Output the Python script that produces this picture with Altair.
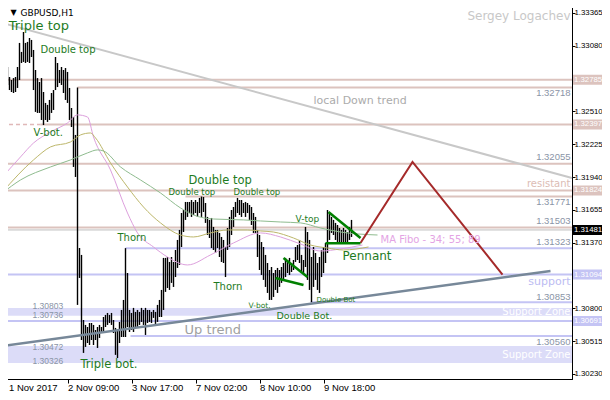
import altair as alt
import pandas as pd

# ---------------- data ----------------
bar_high = [1.32940, 1.32931, 1.32896, 1.32809, 1.32783, 1.32800, 1.32809, 1.32896, 1.33105, 1.33027,
            1.33200, 1.33105, 1.33114, 1.33148, 1.33131, 1.33044, 1.32870, 1.32800, 1.32766, 1.32800,
            1.32679, 1.32584, 1.32567, 1.32610, 1.32670, 1.32696, 1.32983, 1.32931, 1.32870, 1.32896,
            1.32870, 1.32887, 1.32853, 1.32714, 1.32540, 1.32462, 1.32306, 1.32718, 1.31324, 1.31264,
            1.30699, 1.30656, 1.30638, 1.30673, 1.30673, 1.30656, 1.30612, 1.30638, 1.30656, 1.30638,
            1.30725, 1.30743, 1.30760, 1.30743, 1.30760, 1.30699, 1.30630, 1.30612, 1.30682, 1.30786,
            1.30873, 1.31323, 1.31107, 1.30786, 1.30760, 1.30804, 1.30769, 1.30786, 1.30769, 1.30804,
            1.30786, 1.30804, 1.30786, 1.30786, 1.30769, 1.30786, 1.30769, 1.30830, 1.30873, 1.30960,
            1.31238, 1.31238, 1.31246, 1.31203, 1.31246, 1.31203, 1.31307, 1.31394, 1.31481, 1.31628,
            1.31654, 1.31724, 1.31724, 1.31724, 1.31741, 1.31724, 1.31741, 1.31724, 1.31759, 1.31771,
            1.31767, 1.31715, 1.31594, 1.31568, 1.31585, 1.31507, 1.31481, 1.31481, 1.31455, 1.31420,
            1.31394, 1.31333, 1.31498, 1.31594, 1.31654, 1.31680, 1.31724, 1.31759, 1.31741, 1.31741,
            1.31715, 1.31724, 1.31715, 1.31698, 1.31680, 1.31628, 1.31594, 1.31481, 1.31437, 1.31376,
            1.31333, 1.31264, 1.31194, 1.31133, 1.31159, 1.31107, 1.31133, 1.31151, 1.31133, 1.31159,
            1.31194, 1.31238, 1.31220, 1.31238, 1.31194, 1.31220, 1.31333, 1.31350, 1.31394, 1.31264,
            1.31220, 1.31507, 1.31463, 1.31394, 1.31246, 1.31333, 1.31281, 1.31194, 1.31246, 1.31307,
            1.31333, 1.31368, 1.31654, 1.31628, 1.31594, 1.31568, 1.31542, 1.31524, 1.31498, 1.31481,
            1.31498, 1.31481, 1.31463, 1.31507, 1.31568]
bar_low = [1.32844, 1.32783, 1.32740, 1.32696, 1.32679, 1.32670, 1.32679, 1.32714, 1.32783, 1.32931,
           1.32940, 1.32931, 1.32940, 1.32931, 1.32983, 1.32696, 1.32506, 1.32497, 1.32497, 1.32436,
           1.32392, 1.32436, 1.32419, 1.32436, 1.32497, 1.32523, 1.32696, 1.32722, 1.32757, 1.32740,
           1.32670, 1.32610, 1.32584, 1.32436, 1.32375, 1.32028, 1.31941, 1.30830, 1.31064, 1.30525,
           1.30413, 1.30465, 1.30499, 1.30482, 1.30525, 1.30482, 1.30525, 1.30456, 1.30543, 1.30586,
           1.30595, 1.30638, 1.30656, 1.30673, 1.30656, 1.30586, 1.30396, 1.30369, 1.30499, 1.30551,
           1.30551, 1.30551, 1.30638, 1.30595, 1.30612, 1.30595, 1.30638, 1.30630, 1.30656, 1.30682,
           1.30656, 1.30569, 1.30673, 1.30682, 1.30673, 1.30717, 1.30656, 1.30682, 1.30725, 1.30725,
           1.30786, 1.30943, 1.30977, 1.30960, 1.31021, 1.30986, 1.31072, 1.31151, 1.31177, 1.31333,
           1.31463, 1.31568, 1.31594, 1.31628, 1.31594, 1.31611, 1.31628, 1.31594, 1.31628, 1.31594,
           1.31637, 1.31542, 1.31437, 1.31411, 1.31324, 1.31307, 1.31281, 1.31324, 1.31246, 1.31203,
           1.31194, 1.31072, 1.31307, 1.31333, 1.31437, 1.31507, 1.31594, 1.31628, 1.31611, 1.31594,
           1.31628, 1.31594, 1.31628, 1.31568, 1.31524, 1.31455, 1.31455, 1.31246, 1.31133, 1.31090,
           1.31047, 1.30986, 1.30934, 1.30873, 1.30873, 1.30899, 1.30960, 1.30934, 1.30986, 1.31021,
           1.31047, 1.31072, 1.31107, 1.31090, 1.31116, 1.31133, 1.31203, 1.31220, 1.31194, 1.31116,
           1.31107, 1.31159, 1.31047, 1.30960, 1.30853, 1.30986, 1.31047, 1.30960, 1.30934, 1.31072,
           1.31107, 1.31194, 1.31281, 1.31394, 1.31455, 1.31437, 1.31394, 1.31376, 1.31376, 1.31376,
           1.31376, 1.31376, 1.31376, 1.31394, 1.31420]

ma34_x = [-0.5, 8.5, 15, 23.5, 32, 37, 42, 45, 53.5, 62, 67, 75, 82, 92, 103.5, 115, 128.5, 138.5, 148.5, 158.5, 168.5, 179.5]
ma34_y = [1.31941, 1.32115, 1.32236, 1.32332, 1.32410, 1.32480, 1.32462, 1.32288, 1.32002, 1.31628, 1.31455,
          1.31333, 1.31246, 1.31177, 1.31264, 1.31368, 1.31455, 1.31420, 1.31359, 1.31298, 1.31316, 1.31350]
ma55_x = [-0.5, 15, 23.5, 33.5, 38.5, 43.5, 46, 53.5, 62, 70, 78.5, 88.5, 95, 103.5, 112, 122, 128.5, 135, 145, 153.5, 162, 170, 182.5]
ma55_y = [1.31811, 1.32089, 1.32202, 1.32245, 1.32306, 1.32323, 1.32280, 1.32063, 1.31854, 1.31680, 1.31542,
          1.31437, 1.31420, 1.31455, 1.31481, 1.31481, 1.31472, 1.31463, 1.31411, 1.31350, 1.31324, 1.31307, 1.31333]
ma89_x = [-0.5, 8.5, 23.5, 33.5, 42, 47, 50, 58.5, 68.5, 78.5, 88.5, 95, 105, 120, 128.5, 138.5, 148.5, 158.5, 168.5, 187]
ma89_y = [1.31802, 1.31915, 1.32028, 1.32089, 1.32150, 1.32176, 1.32167, 1.32028, 1.31915, 1.31802, 1.31672,
          1.31611, 1.31576, 1.31568, 1.31559, 1.31550, 1.31542, 1.31498, 1.31463, 1.31437]

resist_levels = [1.32785, 1.32718, 1.32397, 1.32055, 1.31824, 1.31771, 1.31503]
resist_from = [-0.75, 37, 18.5, -0.75, -0.75, 91, -0.75]
support_levels = [1.31323, 1.31094, 1.30853, 1.30691, 1.30560]
support_from = [61, -0.75, 153.5, -0.75, 63.5]
zone_top = [1.30803, 1.30472]
zone_bottom = [1.30736, 1.30326]
last_price = 1.31481

down_trend_x = [-0.5, 284.25]
down_trend_y = [1.33278, 1.31932]
up_trend_x = [-0.5, 273.5]
up_trend_y = [1.30474, 1.31124]
forecast_x = [178.5, 204.5, 249.5]
forecast_y = [1.31368, 1.32072, 1.31094]
pennant_top_x = [162.5, 178.5]
pennant_top_y = [1.31637, 1.31411]
pennant_base_x = [161, 178.5]
pennant_base_y = [1.31365, 1.31365]
wedge_top_x = [140, 152]
wedge_top_y = [1.31238, 1.31072]
wedge_base_x = [136, 150]
wedge_base_y = [1.31064, 1.31003]

x_tick_idx = [0, 32, 64, 96, 128, 160]
x_tick_labels = ["1 Nov 2017", "2 Nov 09:00", "3 Nov 17:00", "7 Nov 02:00", "8 Nov 10:00", "9 Nov 18:00"]
y_ticks = [1.33365, 1.33080, 1.32510, 1.32225, 1.31940, 1.31655, 1.31370, 1.30800, 1.30515, 1.30230]

axis_marks = [1.32785, 1.32397, 1.31824, 1.31481, 1.31094, 1.30691]
axis_mark_bg = ["#dcc3be", "#dcc3be", "#dcc3be", "#000000", "#c4c4f4", "#c4c4f4"]

# ---------------- styling ----------------
X_MIN, X_MAX = -0.75, 284.25
Y_MIN, Y_MAX = 1.301865, 1.334692
ROSE = "#dcc3be"
LAV = "#c4c4f4"
ZONE = "#dcdcf8"
PAT = "#1e7b1e"
NUMFONT = "Liberation Sans"
NUMSIZE = 7.8

label_expr = " : ".join(
    f"datum.value == {i} ? '{t}'" for i, t in zip(x_tick_idx, x_tick_labels)) + " : ''"

XS = alt.Scale(domain=[X_MIN, X_MAX], nice=False, zero=False)
YS = alt.Scale(domain=[Y_MIN, Y_MAX], nice=False, zero=False)
XAXIS = alt.Axis(values=x_tick_idx, labelExpr=label_expr, grid=False, title=None,
                 tickSize=4, tickColor="black", domainColor="black", labelColor="black",
                 labelAlign="left", labelBaseline="alphabetic", labelPadding=7,
                 labelOffset=alt.condition("datum.value == 0", alt.value(5), alt.value(0)),
                 labelFont="Liberation Sans",
                 labelFontSize=9.5, labelFlush=False, labelOverlap=False, orient="bottom")
YAXIS = alt.Axis(values=y_ticks, format=".5f", grid=False, title=None, orient="right",
                 tickSize=3, tickColor="black", domainColor="black", labelColor="black",
                 labelPadding=-1, labelFont=NUMFONT, labelFontSize=NUMSIZE,
                 labelFlush=False, labelOverlap=False)


def ex(f):
    return alt.X(f, type="quantitative", scale=XS, axis=XAXIS)


def ey(f):
    return alt.Y(f, type="quantitative", scale=YS, axis=YAXIS)


# zones
zones = pd.DataFrame({"x": X_MIN, "x2": X_MAX, "y": zone_bottom, "y2": zone_top})
zone_layer = alt.Chart(zones).mark_rect(color=ZONE).encode(
    x=ex("x"), x2="x2", y=ey("y"), y2="y2")

# horizontal levels
lv_rows = []
for p, f in zip(resist_levels, resist_from):
    lv_rows.append({"x": f, "x2": X_MAX, "y": p, "c": ROSE})
for p, f in zip(support_levels, support_from):
    lv_rows.append({"x": f, "x2": X_MAX, "y": p, "c": LAV})
levels = pd.DataFrame(lv_rows)
level_layer = alt.Chart(levels).mark_rule(strokeWidth=2).encode(
    x=ex("x"), x2="x2", y=ey("y"), color=alt.Color("c:N", scale=None))
dash_df = pd.DataFrame({"x": [X_MIN], "x2": [resist_from[2]], "y": [resist_levels[2]]})
dash_layer = alt.Chart(dash_df).mark_rule(strokeWidth=1.5, strokeDash=[4, 3], color="#e0b8b8").encode(
    x=ex("x"), x2="x2", y=ey("y"))
last_df = pd.DataFrame({"x": [X_MIN], "x2": [X_MAX], "y": [last_price]})
last_layer = alt.Chart(last_df).mark_rule(strokeWidth=1, color="#bdbdbd").encode(
    x=ex("x"), x2="x2", y=ey("y"))

# bars
bars = pd.DataFrame({"i": list(range(len(bar_high))), "hi": bar_high, "lo": bar_low})
bar_layer = alt.Chart(bars).mark_rule(color="black", strokeWidth=1.4).encode(
    x=ex("i"), y=ey("hi"), y2="lo")

# moving averages
ma_rows = []
for name, xs, ys, col in [("ma34", ma34_x, ma34_y, "#dda0dd"),
                          ("ma55", ma55_x, ma55_y, "#bdb76b"),
                          ("ma89", ma89_x, ma89_y, "#8fbc8f")]:
    for a, b in zip(xs, ys):
        ma_rows.append({"s": name, "x": a, "y": b, "c": col})
ma_layer = alt.Chart(pd.DataFrame(ma_rows)).mark_line(strokeWidth=1, interpolate="monotone").encode(
    x=ex("x"), y=ey("y"), detail="s:N", color=alt.Color("c:N", scale=None))

# trend / pattern lines
ln_rows = []
for name, xs, ys, col, w in [("down", down_trend_x, down_trend_y, "#c8c8c8", 2),
                             ("up", up_trend_x, up_trend_y, "#778899", 2.5),
                             ("fc", forecast_x, forecast_y, "#a52a2a", 2),
                             ("pt", pennant_top_x, pennant_top_y, "#008000", 2.5),
                             ("pb", pennant_base_x, pennant_base_y, "#008000", 2.5),
                             ("wt", wedge_top_x, wedge_top_y, "#008000", 2.5),
                             ("wb", wedge_base_x, wedge_base_y, "#008000", 2.5)]:
    for a, b in zip(xs, ys):
        ln_rows.append({"s": name, "x": a, "y": b, "c": col, "w": w})
line_layer = alt.Chart(pd.DataFrame(ln_rows)).mark_line().encode(
    x=ex("x"), y=ey("y"), detail="s:N", color=alt.Color("c:N", scale=None),
    strokeWidth=alt.StrokeWidth("w:Q", scale=None))

# text annotations (left aligned)
left_txt = pd.DataFrame([
    {"t": "Triple top", "x": 2.6, "y": 1.33252, "s": 13, "c": PAT},
    {"t": "Double top", "x": 18.5, "y": 1.33044, "s": 10, "c": PAT},
    {"t": "V-bot.", "x": 15, "y": 1.32323, "s": 10, "c": PAT},
    {"t": "Thorn", "x": 57, "y": 1.31411, "s": 10, "c": PAT},
    {"t": "Triple bot.", "x": 38.5, "y": 1.30309, "s": 11.5, "c": PAT},
    {"t": "Double top", "x": 92.5, "y": 1.31906, "s": 11.5, "c": PAT},
    {"t": "Double top", "x": 82.5, "y": 1.31811, "s": 8.5, "c": PAT},
    {"t": "Double top", "x": 115, "y": 1.31811, "s": 8.5, "c": PAT},
    {"t": "Thorn", "x": 105, "y": 1.30986, "s": 10, "c": PAT},
    {"t": "V-bot.", "x": 122.5, "y": 1.30821, "s": 7.5, "c": PAT},
    {"t": "Double Bot.", "x": 136.5, "y": 1.30734, "s": 9.5, "c": PAT},
    {"t": "Double Bot", "x": 156.5, "y": 1.30873, "s": 7, "c": PAT},
    {"t": "V-top", "x": 146, "y": 1.31576, "s": 9, "c": PAT},
    {"t": "Pennant", "x": 169.5, "y": 1.31255, "s": 12, "c": PAT},
    {"t": "local Down trend", "x": 155, "y": 1.32601, "s": 11, "c": "#ababab"},
    {"t": "Up trend", "x": 90.5, "y": 1.30612, "s": 13, "c": "#a0a0a0"},
    {"t": "MA Fibo - 34; 55; 89", "x": 188.5, "y": 1.31394, "s": 10, "c": "#e4a4e4"},
    {"t": "GBPUSD,H1", "x": 8.5, "y": 1.33365, "s": 9, "c": "black"},
    {"t": "▼", "x": 3.5, "y": 1.33365, "s": 8, "c": "black"},
])
left_layer = alt.Chart(left_txt).mark_text(align="left", baseline="middle", font="DejaVu Sans").encode(
    x=ex("x"), y=ey("y"), text="t:N", size=alt.Size("s:Q", scale=None),
    color=alt.Color("c:N", scale=None))

right_txt = pd.DataFrame([
    {"t": "Sergey Logachev", "x": 283.5, "y": 1.33339, "s": 12, "c": "#c8c8c8"},
    {"t": "resistant", "x": 283.5, "y": 1.31880, "s": 10, "c": "#dcbcb4"},
    {"t": "support", "x": 283.5, "y": 1.31029, "s": 11, "c": "#bcbcf2"},
    {"t": "Support Zone", "x": 283.5, "y": 1.30769, "s": 10, "c": "white"},
    {"t": "Support Zone", "x": 283.5, "y": 1.30396, "s": 10, "c": "white"},
])
right_layer = alt.Chart(right_txt).mark_text(align="right", baseline="middle", font="DejaVu Sans").encode(
    x=ex("x"), y=ey("y"), text="t:N", size=alt.Size("s:Q", scale=None),
    color=alt.Color("c:N", scale=None))

# price labels on levels
pr_right = pd.DataFrame({
    "t": ["1.32718", "1.32055", "1.31771", "1.31503", "1.31323", "1.30853", "1.30560"],
    "x": 283.5,
    "y": [1.32670, 1.32115, 1.31724, 1.31559, 1.31376, 1.30899, 1.30508]})
pr_right_layer = alt.Chart(pr_right).mark_text(align="right", baseline="middle", font="Liberation Sans",
                                                fontSize=9.5, color="#8a94a6").encode(
    x=ex("x"), y=ey("y"), text="t:N")
pr_left = pd.DataFrame({
    "t": ["1.30803", "1.30736", "1.30472", "1.30326"],
    "x": 14.5,
    "y": [1.30821, 1.30740, 1.30465, 1.30343]})
pr_left_layer = alt.Chart(pr_left).mark_text(align="left", baseline="middle", font="Liberation Sans",
                                              fontSize=8.5, color="#8a94a6").encode(
    x=ex("x"), y=ey("y"), text="t:N")

# highlighted axis labels
am = pd.DataFrame({"p": axis_marks, "bg": axis_mark_bg,
                   "t": [f"{v:.5f}" for v in axis_marks]})
am_box = alt.Chart(am).mark_rule(strokeWidth=10).encode(
    x=alt.value(571), x2=alt.value(612), y=ey("p"), color=alt.Color("bg:N", scale=None))
am_txt = alt.Chart(am).mark_text(align="left", baseline="middle", font=NUMFONT,
                                 fontSize=NUMSIZE, color="white").encode(
    x=alt.value(572), y=ey("p"), text="t:N")

chart = alt.layer(
    zone_layer, level_layer, dash_layer, last_layer, bar_layer, ma_layer, line_layer,
    left_layer, right_layer, pr_right_layer, pr_left_layer, am_box, am_txt
).properties(
    width=570, height=378,
    padding={"left": -6, "top": -7, "right": 30, "bottom": 13},
    autosize=alt.AutoSizeParams(type="none"),
    background="white",
).configure_view(stroke="black", strokeWidth=1)

chart.save("out.html", embed_options={"renderer": "svg", "actions": False})
